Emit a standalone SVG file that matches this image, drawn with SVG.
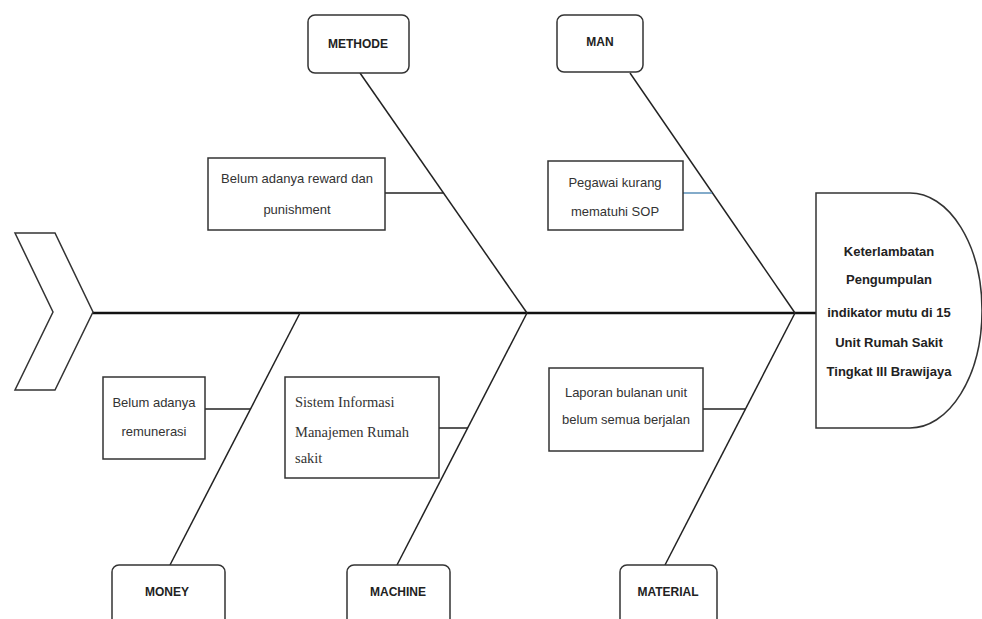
<svg xmlns="http://www.w3.org/2000/svg" width="982" height="619" viewBox="0 0 982 619">
<style>
.bg{fill:#fff}
.bone{stroke:#222;stroke-width:1.5;fill:none}
.spine{stroke:#111;stroke-width:2.5;fill:none}
.box{fill:#fff;stroke:#333;stroke-width:1.5}
.cat{fill:#fff;stroke:#333;stroke-width:1.5}
.lbl{font-family:"Liberation Sans",Arial,sans-serif;font-size:12px;font-weight:bold;fill:#222;text-anchor:middle}
.txt{font-family:"Liberation Sans",Arial,sans-serif;font-size:13px;fill:#333;text-anchor:middle}
.ser{font-family:"Liberation Serif","Times New Roman",serif;font-size:14.5px;fill:#333}
.head{font-family:"Liberation Sans",Arial,sans-serif;font-size:13px;font-weight:bold;fill:#222;text-anchor:middle}
</style>
<rect class="bg" x="0" y="0" width="982" height="619"/>
<g id="connectors">
<line class="spine" x1="93" y1="313" x2="816" y2="313"/>
<line class="bone" x1="360" y1="73" x2="527" y2="313"/>
<line class="bone" x1="630" y1="73" x2="795" y2="313"/>
<line class="bone" x1="300" y1="313" x2="170" y2="565"/>
<line class="bone" x1="527" y1="313" x2="397" y2="565"/>
<line class="bone" x1="795" y1="313" x2="665" y2="565"/>
<line class="bone" x1="385" y1="193" x2="443" y2="193"/>
<line x1="683" y1="193" x2="712" y2="193" stroke="#5a8fb8" stroke-width="1.5"/>
<line class="bone" x1="205" y1="409" x2="250" y2="409"/>
<line class="bone" x1="439" y1="428" x2="468" y2="428"/>
<line class="bone" x1="703" y1="409" x2="745" y2="409"/>
</g>
<g id="tail">
<polygon class="box" points="15,233 55,233 93,312 55,390 15,390 53,312"/>
</g>
<g id="head">
<path class="box" d="M816,193 L910,193 A72,117.5 0 0 1 910,428 L816,428 Z"/>
<text class="head" x="889" y="256">Keterlambatan</text>
<text class="head" x="889" y="284">Pengumpulan</text>
<text class="head" x="889" y="317">indikator mutu di 15</text>
<text class="head" x="889" y="347">Unit Rumah Sakit</text>
<text class="head" x="889" y="376">Tingkat III Brawijaya</text>
</g>
<g id="methode">
<rect class="cat" x="308" y="15" width="101" height="58" rx="7"/>
<text class="lbl" x="358" y="48">METHODE</text>
</g>
<g id="man">
<rect class="cat" x="557" y="15" width="86" height="57" rx="7"/>
<text class="lbl" x="600" y="46">MAN</text>
</g>
<g id="money">
<rect class="cat" x="112" y="565" width="113" height="70" rx="7"/>
<text class="lbl" x="167" y="596">MONEY</text>
</g>
<g id="machine">
<rect class="cat" x="347" y="565" width="103" height="70" rx="7"/>
<text class="lbl" x="398" y="596">MACHINE</text>
</g>
<g id="material">
<rect class="cat" x="620" y="565" width="97" height="70" rx="7"/>
<text class="lbl" x="668" y="596">MATERIAL</text>
</g>
<g id="cause-reward">
<rect class="box" x="208" y="158" width="177" height="72"/>
<text class="txt" x="297" y="183">Belum adanya reward dan</text>
<text class="txt" x="297" y="214">punishment</text>
</g>
<g id="cause-sop">
<rect class="box" x="548" y="161" width="135" height="69"/>
<text class="txt" x="615" y="187">Pegawai kurang</text>
<text class="txt" x="615" y="216">mematuhi SOP</text>
</g>
<g id="cause-remunerasi">
<rect class="box" x="103" y="377" width="102" height="82"/>
<text class="txt" x="154" y="407">Belum adanya</text>
<text class="txt" x="154" y="436">remunerasi</text>
</g>
<g id="cause-simrs">
<rect class="box" x="285" y="377" width="154" height="101"/>
<text class="ser" x="295" y="407">Sistem Informasi</text>
<text class="ser" x="295" y="437">Manajemen Rumah</text>
<text class="ser" x="295" y="463">sakit</text>
</g>
<g id="cause-laporan">
<rect class="box" x="549" y="368" width="154" height="83"/>
<text class="txt" x="626" y="397">Laporan bulanan unit</text>
<text class="txt" x="626" y="424">belum semua berjalan</text>
</g>
</svg>
